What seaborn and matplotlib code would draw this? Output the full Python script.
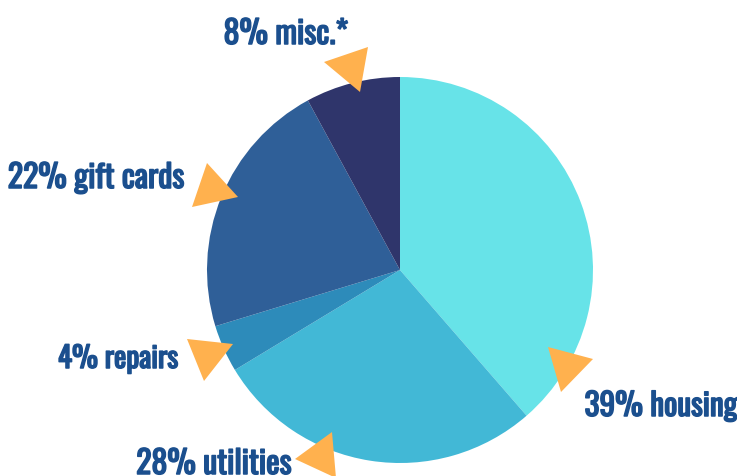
import numpy as np
import seaborn as sns
from matplotlib import pyplot as plt
from matplotlib.patches import Polygon
import matplotlib.patheffects as pe

# spending breakdown
categories = ["housing", "utilities", "repairs", "gift cards", "misc.*"]
shares = [39, 28, 4, 22, 8]
slice_colors = ["#67E3E8", "#42B8D6", "#2D8BBA", "#2F5F98", "#2F356B"]

sns.set_theme(style="white")
plt.rcParams['font.family'] = ['Oswald', 'Fjalla One', 'DejaVu Sans']

W, H = 737, 476
TEXT_COLOR = "#1B4F8E"
fig = plt.figure(figsize=(W / 100, H / 100), dpi=100)
ax = fig.add_axes([0, 0, 1, 1])

ax.pie(shares, colors=slice_colors, startangle=90, counterclock=False,
       center=(400, H - 270), radius=193, frame=True,
       wedgeprops={'linewidth': 0})
ax.set_xlim(0, W)
ax.set_ylim(0, H)
ax.set_aspect('equal')
ax.axis('off')

# orange pointer triangles (pixel coords, y down)
triangles = {
    "housing": [(548, 347), (593, 359), (561, 392)],
    "utilities": [(332, 432), (295, 459), (336, 478)],
    "repairs": [(187, 339), (233, 344), (204, 381)],
    "gift cards": [(207, 163), (238, 197), (192, 207)],
    "misc.*": [(324, 62), (368, 47), (360, 92)],
}
# label centre x, baseline y, font size
label_pos = {
    "housing": (661, 416, 22.5),
    "utilities": (214, 474, 23),
    "repairs": (118, 368, 21),
    "gift cards": (96, 188, 23),
    "misc.*": (286, 44, 23),
}

for cat, share in zip(categories, shares):
    pts = [(x, H - y) for x, y in triangles[cat]]
    ax.add_patch(Polygon(pts, closed=True, facecolor="#FFB14E", edgecolor='none', zorder=3))
    x, y, fs = label_pos[cat]
    ax.text(x, H - y, f"{share}% {cat}", ha='center', va='baseline', fontsize=fs,
            fontweight='bold', color=TEXT_COLOR, zorder=4,
            path_effects=[pe.withStroke(linewidth=1.1, foreground=TEXT_COLOR)])

fig.savefig("out.png", dpi=100)
